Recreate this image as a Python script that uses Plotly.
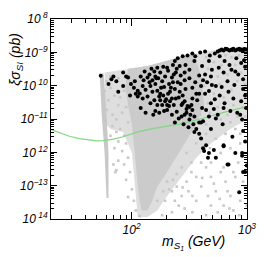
import plotly.graph_objects as go
import math

# ---------------- data ----------------
# green limit curve
curve_m = [20, 23.8, 28.9, 35.2, 42.7, 49.9, 57.2, 69.5, 84.4, 113, 151, 203, 277, 364, 487, 652, 1000]
curve_sigma = [4.83e-12, 3.83e-12, 3.04e-12, 2.58e-12, 2.33e-12, 2.21e-12, 2.26e-12, 2.49e-12,
               2.94e-12, 4.09e-12, 5.16e-12, 6.09e-12, 7.28e-12, 9.35e-12, 1.26e-11, 1.64e-11, 2.36e-11]

# outline of the sparse (mottled) grey scan region
light_region_m = [58.3, 93.1, 137.3, 261, 400, 591, 1000, 1000, 718, 486, 363.5, 271, 203, 167, 137, 113,
                  106.6, 100.6, 84.4, 65.5, 58.3]
light_region_sigma = [2.47e-10, 3.21e-10, 3.92e-10, 7.11e-10, 9.9e-10, 1.29e-9, 1.47e-9, 9.7e-12, 5.0e-12,
                      1.85e-12, 6.9e-13, 1.83e-13, 4.9e-14, 1.81e-14, 1.14e-14, 1.14e-14,
                      1.32e-13, 9.6e-13, 4.1e-12, 5.0e-12, 7.9e-12]

# outline of the dense grey scan region
dense_region_m = [93.1, 137.3, 261, 349.6, 400, 424.7, 363.5, 271, 203, 167, 151, 137, 122, 115.4, 108.7,
                  104.6, 100.6, 93.1, 87.8]
dense_region_sigma = [3.21e-10, 3.92e-10, 7.11e-10, 9.25e-10, 1.89e-10, 2.61e-11, 6.95e-12, 1.33e-12,
                      2.55e-13, 9.4e-14, 3.51e-14, 1.81e-14, 1.81e-14, 4.9e-14, 3.55e-13, 1.85e-12,
                      6.95e-12, 2.61e-11, 9.78e-11]

# narrow resonance spike near m_h/2
spike_m = [52.9, 57.2, 60.6, 63.0, 63.0, 60.6, 58.3, 55.0]
spike_sigma = [2.3e-10, 2.3e-10, 1.35e-11, 9.6e-13, 4.3e-14, 4.3e-14, 9.6e-13, 1.35e-11]

# scattered grey scan points
grey_m = [202.8, 223.5, 246.3, 236.9, 271.5, 299.2, 329.8, 311.1, 363.5, 400.6, 441.6, 486.7, 536.6, 591.4,
          651.9, 718.6, 792.0, 873.1, 962.3, 761.8, 627.0, 486.7, 363.5, 287.8, 223.5, 184.0, 400.6, 486.7,
          591.4, 718.6, 873.1, 651.9, 792.0, 962.3, 536.6, 441.6, 591.4, 718.6, 873.1, 329.8, 271.5, 246.3,
          210.8, 195.0, 166.9, 256.1, 336.3, 441.6, 557.9, 677.8, 839.7, 962.3, 408.5, 516.0, 299.2, 363.5,
          441.6, 627.0, 761.8, 925.5, 187.6, 227.9, 276.8, 336.3, 459.1, 580.0, 704.7, 856.2, 995, 477.3,
          68.2, 73.7, 79.6, 86.1, 76.6, 70.9, 82.8, 89.5, 93.1, 86.1, 76.6, 96.8, 89.5, 100.6, 93.1, 73.7,
          65.5, 104.6, 108.7, 117.5, 69.5, 72.3,
          60.6, 65.5, 70.9, 63.0, 76.6, 82.8, 68.2, 73.7, 60.6, 79.6, 86.1, 65.5, 76.6, 89.5, 58.3, 93.1,
          441.6, 516.0, 603.0, 732.7, 856.2, 962.3, 459.1, 557.9, 677.8, 823.5, 962.3, 424.7, 516.0, 627.0,
          761.8, 925.5, 459.1, 557.9, 677.8, 823.5, 962.3, 651.9, 792.0, 890.2, 580.0, 732.7, 477.3, 392.9]
grey_sigma = [1.32e-13, 6.80e-14, 9.4e-14, 3.51e-14, 4.9e-14, 1.32e-13, 2.55e-13, 6.80e-14, 1.83e-13, 9.4e-14,
              3.55e-13, 1.83e-13, 6.80e-14, 2.55e-13, 1.32e-13, 4.9e-14, 1.83e-13, 3.51e-14, 9.4e-14, 1.81e-14,
              2.52e-14, 2.52e-14, 3.51e-14, 2.07e-14, 1.59e-14, 1.3e-14, 4.94e-13, 4.94e-13, 9.56e-13, 1.33e-12,
              1.85e-12, 3.59e-12, 5.0e-12, 6.95e-12, 2.58e-12, 3.59e-12, 9.7e-12, 7.93e-12, 3.59e-12, 4.94e-13,
              3.55e-13, 2.23e-13, 7.76e-14, 3.51e-14, 3.51e-14, 2.52e-14, 1.59e-14, 1.3e-14, 1.59e-14, 6.80e-14,
              4.94e-13, 9.56e-13, 1.71e-13, 1.15e-13, 9.56e-13, 1.85e-12, 6.95e-12, 3.55e-13, 2.55e-13, 1.32e-13,
              6.80e-14, 1.50e-13, 8.85e-14, 4.9e-14, 4.9e-14, 4.0e-14, 2.07e-14, 1.3e-14, 2.52e-14, 1.33e-12,
              6.09e-12, 4.10e-12, 5.0e-12, 3.14e-12, 2.11e-12, 1.33e-12, 1.09e-12, 1.85e-12, 6.9e-13, 4.33e-13,
              5.63e-13, 2.55e-13, 1.50e-13, 7.76e-14, 4.57e-14, 2.91e-13, 3.14e-12, 3.51e-14, 1.81e-14, 1.22e-14,
              4.33e-13, 2.55e-13,
              1.36e-10, 8.57e-11, 5.05e-11, 3.64e-11, 2.61e-11, 1.54e-11, 1.35e-11, 9.7e-12, 1.87e-11, 4.43e-11,
              7.0e-11, 1.89e-10, 1.66e-10, 2.28e-11, 7.0e-11, 7.93e-12,
              7.11e-10, 5.1e-10, 4.19e-10, 7.11e-10, 8.11e-10, 9.25e-10, 3.21e-10, 1.89e-10, 2.16e-10, 1.36e-10,
              1.12e-10, 9.78e-11, 5.76e-11, 4.43e-11, 2.61e-11, 2.28e-11, 2.97e-11, 2.28e-11, 1.35e-11, 1.18e-11,
              1.18e-11, 8.11e-10, 4.19e-10, 2.47e-10, 1.12e-10, 7.51e-11, 1.54e-11, 1.35e-11]

# black points (allowed models)
black_m = [54.0, 69.5, 66.8, 73.7, 84.4, 93.1, 98.7, 106.6, 113.0, 117.5, 119.8, 129.6, 137.3, 142.8, 145.6,
           151.4, 157.4, 160.5, 166.9, 177, 184, 191, 195, 203, 211, 215, 223.5, 137.3, 145.6, 157.4, 173.5,
           184, 195, 211, 223.5, 124.6, 119.8, 108.7, 113, 166.9, 177, 160.5, 191, 132.1,
           236.9, 251, 277, 305, 336, 356, 393, 433, 477, 526, 580, 639, 705, 808, 890, 944, 261, 241.5, 293,
           317, 266, 251, 288, 237, 261, 293, 241.5, 277, 305, 336, 356, 385, 433, 496, 569, 627, 733, 840,
           925, 496, 603, 691, 777, 925, 433, 526, 639, 762, 890, 408, 983, 350, 468, 408,
           603, 627, 652, 678, 705, 733, 762, 792, 823, 856, 890, 925, 962, 995, 665, 747, 873, 944, 558, 580,
           203, 223.5, 246, 271, 299, 317, 343, 363.5, 385, 400, 416, 442, 425, 459, 385, 350, 487, 516, 558,
           615, 627, 678, 747, 792, 823, 907, 925, 962, 907, 925, 995, 317, 442, 627, 237, 282, 311,
           416, 468, 537, 691, 856, 962, 907, 627,
           124.6, 132, 142.8, 151.4, 160.5, 170, 180, 188, 199, 207, 219, 228, 232, 246, 266, 277, 288, 299,
           323, 336, 350, 370, 385, 400, 416, 451, 468, 487, 516, 537, 468, 400, 271, 256, 232, 215, 203, 177,
           167, 154, 173.5, 256, 288, 330, 363.5, 336, 317, 288, 228, 207, 188, 163.7, 148.5, 127, 104.6,
           96.8, 76.6, 63, 89.5, 84.4, 487, 537, 580, 678, 792, 962, 873, 718, 962]
black_sigma = [2.0e-10, 1.89e-10, 1.55e-10, 1.36e-10, 9.8e-11, 1.77e-10, 1.12e-10, 1.36e-10, 7.0e-11, 5.8e-11,
               1.89e-10, 2.64e-10, 1.77e-10, 1.27e-10, 9.8e-11, 6.6e-11, 2.64e-10, 1.89e-10, 3.44e-10,
               2.47e-10, 1.36e-10, 9.1e-11, 1.89e-10, 3.44e-10, 1.12e-10, 6.6e-11, 1.77e-10, 4.7e-11, 2.97e-11,
               3.64e-11, 4.7e-11, 2.61e-11, 3.40e-11, 2.44e-11, 4.15e-11, 4.15e-11, 2.14e-11, 5.76e-11, 4.7e-11,
               7.0e-11, 5.76e-11, 1.75e-11, 1.75e-11, 1.54e-11,
               5.46e-10, 6.7e-10, 7.6e-10, 8.1e-10, 9.25e-10, 7.6e-10, 9.9e-10, 1.06e-9, 8.1e-10, 9.25e-10,
               7.6e-10, 5.46e-10, 4.19e-10, 6.7e-10, 4.78e-10, 5.8e-10, 3.92e-10, 2.47e-10, 4.19e-10, 3.0e-10,
               2.02e-10, 1.27e-10, 1.45e-10, 8.0e-11, 6.58e-11, 8.0e-11, 4.15e-11, 2.97e-11, 2.44e-11, 4.15e-11,
               1.27e-10, 2.02e-10, 2.16e-10, 3.0e-10, 3.44e-10, 2.47e-10, 3.0e-10, 2.16e-10, 1.55e-10, 1.05e-10,
               9.1e-11, 6.58e-11, 1.05e-10, 8.0e-11, 5.76e-11, 3.88e-11, 2.97e-11, 4.15e-11, 3.40e-11, 2.14e-11,
               2.14e-11, 5.46e-10, 5.46e-10, 3.92e-10,
               1.21e-9, 1.13e-9, 1.29e-9, 1.21e-9, 1.13e-9, 1.21e-9, 1.29e-9, 1.13e-9, 1.21e-9, 1.29e-9,
               1.21e-9, 1.13e-9, 1.21e-9, 1.21e-9, 1.25e-9, 1.17e-9, 1.17e-9, 1.25e-9, 1.06e-9, 1.13e-9,
               1.87e-11, 1.35e-11, 1.64e-11, 1.18e-11, 1.54e-11, 9.7e-12, 6.95e-12, 5.0e-12, 3.59e-12, 2.58e-12,
               8.5e-12, 1.62e-12, 1.09e-12, 6.9e-13, 7.9e-12, 4.1e-12, 5.0e-12, 1.17e-12, 1.35e-11, 6.95e-12,
               1.62e-12, 4.33e-13, 2.95e-12, 9.6e-13, 1.54e-11, 9.7e-12, 4.4e-12, 2.11e-12, 7.9e-13, 2.55e-13,
               4.0e-13, 2.28e-11, 1.87e-11, 2.14e-11, 7.9e-12, 6.95e-12, 5.7e-12,
               1.33e-12, 9.6e-13, 6.9e-13, 4.33e-13, 6.4e-14, 2.55e-13, 9.6e-13, 1.52e-12,
               9.8e-11, 7.5e-11, 2.16e-10, 1.45e-10, 1.12e-10, 1.66e-10, 8.6e-11, 5.05e-11, 3.88e-11, 5.76e-11,
               8.6e-11, 1.27e-10, 2.16e-10, 3.21e-10, 1.12e-10, 5.05e-11, 3.40e-11, 2.0e-11, 1.35e-11, 1.87e-11,
               1.18e-11, 3.64e-11, 5.76e-11, 9.8e-11, 1.45e-10, 1.27e-10, 6.9e-11, 2.97e-11, 2.0e-11, 1.03e-11,
               1.18e-11, 7.9e-12, 2.61e-11, 4.43e-11, 2.61e-11, 3.40e-11, 2.61e-11, 3.64e-11, 2.61e-11, 1.35e-11,
               1.54e-11, 1.03e-11, 1.35e-11, 2.61e-11, 5.76e-11, 8.6e-11, 1.66e-10, 2.47e-10, 4.19e-10, 2.82e-10,
               3.67e-10, 1.66e-10, 3.21e-10, 1.45e-10, 8.6e-11, 5.05e-11, 6.58e-11, 1.12e-10, 1.89e-10, 2.47e-10,
               1.89e-10, 9.8e-11, 5.05e-11, 1.36e-10, 2.64e-10, 3.67e-10, 1.35e-11, 1.75e-11, 5.05e-11]

# axis ticks
x_tick_vals = [100, 1000]
x_tick_text = ["10<sup>2</sup>", "10<sup>3</sup>"]
x_minor_vals = [30, 40, 50, 60, 70, 80, 90, 200, 300, 400, 500, 600, 700, 800, 900]
y_exponents = [-14, -13, -12, -11, -10, -9, -8]
y_tick_text = ["10<sup>\u00a014</sup>", "10<sup>\u221213</sup>", "10<sup>\u00a012</sup>",
               "10<sup>\u221211</sup>", "10<sup>\u00a010</sup>", "10<sup>\u22129</sup>", "10<sup>\u00a08</sup>"]

# ---------------- figure ----------------
FONT = "Liberation Sans"
GREY = "rgb(200,200,200)"

fig = go.Figure()
fig.add_trace(go.Scatter(x=light_region_m, y=light_region_sigma, mode="lines", fill="toself",
                         fillcolor="rgb(222,222,222)", line=dict(width=0), hoverinfo="skip"))
fig.add_trace(go.Scatter(x=dense_region_m, y=dense_region_sigma, mode="lines", fill="toself",
                         fillcolor="rgb(203,203,203)", line=dict(width=0), hoverinfo="skip"))
fig.add_trace(go.Scatter(x=spike_m, y=spike_sigma, mode="lines", fill="toself",
                         fillcolor="rgb(200,200,200)", line=dict(width=0), hoverinfo="skip"))
fig.add_trace(go.Scatter(x=grey_m, y=grey_sigma, mode="markers",
                         marker=dict(color=GREY, size=2.6, symbol="square", line=dict(width=0))))
fig.add_trace(go.Scatter(x=curve_m, y=curve_sigma, mode="lines", line=dict(color="rgb(130,215,130)", width=1.2)))
fig.add_trace(go.Scatter(x=black_m, y=black_sigma, mode="markers",
                         marker=dict(color="black", size=4, symbol="circle", line=dict(width=0))))

tickfont = dict(family=FONT, size=12, color="black", style="italic")
fig.update_layout(
    width=266, height=257,
    margin=dict(l=51, r=14, t=10, b=38),
    paper_bgcolor="white", plot_bgcolor="white",
    showlegend=False,
    xaxis=dict(type="log", range=[math.log10(20), 3], showline=True, linecolor="black", linewidth=1,
               mirror="ticks", ticks="inside", ticklen=7, tickcolor="black", tickwidth=1,
               tickvals=x_tick_vals, ticktext=x_tick_text, tickfont=tickfont, showgrid=False, zeroline=False,
               minor=dict(tickvals=x_minor_vals, ticks="inside", ticklen=4, tickcolor="black", showgrid=False)),
    yaxis=dict(type="log", range=[-14, -8], showline=True, linecolor="black", linewidth=1,
               mirror="ticks", ticks="inside", ticklen=6, tickcolor="black", tickwidth=1,
               tickvals=[10.0 ** e for e in y_exponents], ticktext=y_tick_text, tickfont=tickfont,
               showgrid=False, zeroline=False,
               minor=dict(tickvals=[k * 10.0 ** e for e in y_exponents[:-1] for k in range(2, 10)],
                          ticks="inside", ticklen=3, tickcolor="black", showgrid=False)),
    annotations=[
        dict(text="m<sub>S<sub>1</sub></sub> (GeV)", xref="paper", yref="paper", x=0.726, y=-0.115,
             xanchor="center", yanchor="middle", showarrow=False,
             font=dict(family=FONT, size=14, color="black", style="italic")),
        dict(text="\u03be\u03c3<sub>SI</sub> (pb)", xref="paper", yref="paper", x=-0.18, y=0.80,
             xanchor="center", yanchor="middle", textangle=-90, showarrow=False,
             font=dict(family=FONT, size=14, color="black", style="italic")),
    ],
)

fig.write_html("out.html", config={"displayModeBar": False},
               post_script="document.body.style.margin='0px';")
